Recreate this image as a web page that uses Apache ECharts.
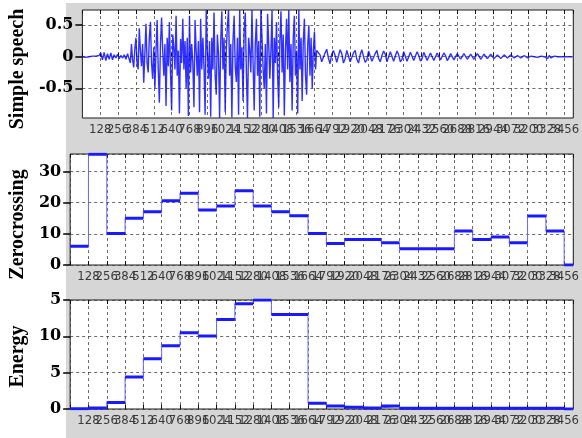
<!DOCTYPE html>
<html>
<head>
<meta charset="utf-8">
<script src="https://cdn.jsdelivr.net/npm/echarts@6/dist/echarts.min.js"></script>
<style>
html,body{margin:0;padding:0;background:#fff;}
#chart{width:582px;height:438px;}
</style>
</head>
<body>
<div id="chart"></div>
<script>
// ---------------- data ----------------
const frameLen = 128;      // samples per analysis frame
const xMax = 3520;

const xTickLabels = ['128','256','384','512','640','768','896','1024','1152','1280','1408','1536','1664','1792',
  '1920','2048','2176','2304','2432','2560','2688','2816','2944','3072','3200','3328','3456'];

const speechTickValues = [-0.5, 0, 0.5];
const speechTickLabels = ['-0.5', '0', '0.5'];
const zcTickLabels = ['0', '10', '20', '30'];
const energyTickLabels = ['0', '5', '10', '5'];

// waveform, quiet onset: samples 0..324, every 12 samples
const speechLeadStart = 0, speechLeadStep = 12;
const speechLead = [
  0, 0.01, -0.01, 0.01, 0, -0.01, 0.01, 0, 0.01, -0.01, 0.02,
  0.06, -0.05, 0.07, -0.06, 0.05, -0.04, 0.06, -0.05,
  0.03, -0.02, 0.04, -0.03, 0.02, -0.02, 0.03, -0.04, 0.05
];
// waveform, voiced part: samples 336..1680, every 8 samples
const speechLoudStart = 336, speechLoudStep = 8;
const speechLoud = [
  0.08, -0.1, 0.2, -0.05, -0.17, 0.12, 0.3, -0.1, -0.2,
  0.45, 0.1, -0.15, 0.2, -0.41, 0.05, 0.52, -0.1, -0.25,
  0.3, 0.55, -0.1, -0.35, 0.15, -0.5, 0.1, 0.58, -0.2, -0.73, 0.2,
  0.62, 0.1, -0.3, 0.2, -0.78, 0.3, -0.15, 0.55, -0.25, -0.85,
  0.35, 0.15, -0.2, 0.65, -0.3, 0.1, -0.9, 0.28, -0.1, 0.6,
  -0.2, 0.25, -0.5, 0.3, -0.94, 0.65, -0.25, 0.2, -0.1, -0.8,
  0.58, 0.1, -0.3, 0.25, -0.88, 0.6, -0.2, 0.3, -0.15, -0.92,
  0.74, 0.1, -0.35, 0.25, -0.95, 0.3, -0.2, 0.7, -0.3, -0.6,
  0.35, 0.05, -0.97, 0.25, 0.72, -0.2, 0.3, -0.88, 0.1, 0.5,
  0.74, -0.3, 0.2, -0.96, 0.25, 0.65, -0.15, -0.4, 0.3, -0.92,
  0.74, -0.2, 0.15, -0.7, 0.4, 0.7, -0.25, -0.97, 0.3, 0.1,
  -0.25, 0.74, -0.1, -0.85, 0.2, 0.6, -0.3, 0.25, -0.95, 0.74,
  0.3, -0.2, -0.5, 0.2, -0.9, 0.68, 0.2, -0.35, 0.1, 0.74,
  -0.97, 0.3, -0.1, 0.55, -0.3, -0.8, 0.25, 0.72, -0.25, 0.35,
  -0.93, 0.1, 0.6, -0.2, 0.74, -0.4, 0.2, -0.85, 0.3, 0.65,
  -0.3, 0.1, -0.9, 0.74, -0.2, 0.3, -0.7, 0.25, 0.6, -0.3,
  -0.6, 0.2, 0.5, -0.3, 0.3, -0.5, 0.1, 0.4, -0.2, 0.1
];
// waveform, unvoiced tail: samples 1692..3516, every 12 samples
const speechTailStart = 1692, speechTailStep = 12;
const speechTail = [
  0.11, 0.03, -0.08, -0.1, 0.06, 0.12, -0.02, -0.11, 0.04, 0.1,
  0.02, -0.09, -0.06, 0.11, 0.05, -0.1, -0.03, 0.1, 0.07, -0.08,
  -0.09, 0.06, 0.1, -0.04, -0.1, 0.03, 0.11, 0.0, -0.09, -0.05,
  0.09, 0.06, -0.07, -0.09, 0.05, 0.1, -0.03, -0.08, 0.02, 0.09,
  0.04, -0.08, -0.06, 0.08, 0.06, -0.07, -0.05, 0.09, 0.03, -0.08,
  -0.04, 0.08, 0.05, -0.07, -0.06, 0.07, 0.04, -0.06, -0.05, 0.08,
  0.02, -0.07, -0.03, 0.07, 0.05, -0.06, -0.04, 0.06, 0.03, -0.06,
  -0.05, 0.06, 0.04, -0.05, -0.03, 0.06, 0.02, -0.06, -0.02, 0.05,
  0.04, -0.05, -0.03, 0.05, 0.03, -0.04,
  -0.03, 0.05, 0.02, -0.04, -0.03, 0.04, 0.03, -0.04, -0.02, 0.05,
  0.01, -0.04, -0.03, 0.04, 0.02, -0.03, -0.02, 0.04, 0.01, -0.03,
  -0.02, 0.03, 0.02, -0.03, -0.01, 0.03, 0.02, -0.02, -0.02, 0.03,
  0.01, -0.02, -0.01, 0.02, 0.01, -0.02, 0.01, 0.02, -0.01, -0.02,
  0.01, 0.01, -0.01, 0.0, 0.01, -0.01, 0.0, 0.01, -0.01, 0.0,
  0.03, -0.03, 0.02, -0.02, 0.0, 0.01, -0.01, 0.0, 0.01, 0.0,
  -0.01, 0.0, 0.01, 0.0, -0.01, 0.0, 0.0
];

const zeroCross = [6.0, 35.5, 10.1, 15.0, 17.1, 20.6, 23.0, 17.6, 18.9, 23.8, 18.9, 17.1, 15.8, 10.1,
  6.9, 8.2, 8.2, 7.1, 5.2, 5.2, 5.2, 10.9, 8.2, 9.0, 7.1, 15.7, 10.9, 0.0];

const energy = [0.05, 0.15, 0.9, 4.4, 6.9, 8.7, 10.5, 10.05, 12.3, 14.5, 15.0, 13.0, 13.0, 0.8,
  0.4, 0.25, 0.15, 0.4, 0.1, 0.1, 0.1, 0.1, 0.1, 0.1, 0.1, 0.1, 0.1, 0.0];

// ---------------- helpers ----------------
function seg(vals, start, step) { return vals.map((v, i) => [start + i * step, v]); }
const speechData = seg(speechLead, speechLeadStart, speechLeadStep)
  .concat(seg(speechLoud, speechLoudStart, speechLoudStep))
  .concat(seg(speechTail, speechTailStart, speechTailStep));

function stepPoints(vals) {
  const pts = vals.map((v, i) => [i * frameLen, v]);
  pts.push([xMax, vals[vals.length - 1]]);
  return pts;
}
function flatPoints(vals) {
  const pts = [];
  vals.forEach((v, i) => {
    const a = i * frameLen, b = Math.min((i + 1) * frameLen, xMax);
    pts.push([a, v], [b, v], [b, '-']);
  });
  return pts;
}

const chart = echarts.init(document.getElementById('chart'), null, {renderer: 'canvas'});

const grids = [
  {left: 69, top: 10, width: 508, height: 108},
  {left: 69, top: 154, width: 508, height: 111},
  {left: 69, top: 300, width: 508, height: 109}
].map(g => Object.assign(g, {show: true, backgroundColor: '#ffffff', borderColor: '#1a1a1a', borderWidth: 1}));

const gridLine = {show: true, lineStyle: {color: '#3a3a3a', type: [3, 3], width: 1, opacity: 0.75}};

function bottomX(gi) {
  return {
    type: 'value', gridIndex: gi, min: 0, max: xMax, interval: frameLen,
    axisLine: {show: false},
    axisTick: {show: true, inside: true, length: 4, lineStyle: {color: '#111'}},
    splitLine: gridLine,
    axisLabel: {
      show: true, margin: 5, fontSize: 13, color: '#3a3a3a',
      fontFamily: "'DejaVu Sans Condensed','Liberation Sans Narrow','Liberation Sans',sans-serif",
      showMaxLabel: false,
      formatter: v => xTickLabels.indexOf(String(v)) >= 0 ? String(v) : ''
    }
  };
}
function topX(gi) {
  return {
    type: 'value', gridIndex: gi, position: 'top', min: 0, max: xMax, interval: frameLen,
    axisLine: {show: false},
    axisTick: {show: true, inside: true, length: 4, lineStyle: {color: '#111'}},
    splitLine: {show: false},
    axisLabel: {show: false}
  };
}

const yLabelStyle = {fontFamily: "'DejaVu Serif',serif", fontWeight: 'bold', fontSize: 16, color: '#000', margin: 9};
const yNameStyle = {fontFamily: "'Liberation Serif','Times New Roman',serif", fontWeight: 'bold', fontSize: 20, color: '#000'};

const option = {
  animation: false,
  backgroundColor: '#ffffff',
  graphic: [{
    type: 'rect', z: -100, silent: true,
    shape: {x: 66, y: 3, width: 516, height: 435},
    style: {fill: '#d6d6d6'}
  }],
  grid: grids,
  xAxis: [bottomX(0), bottomX(1), bottomX(2), topX(0), topX(1), topX(2)],
  yAxis: [
    {
      type: 'value', gridIndex: 0, min: -0.97, max: 0.74,
      name: 'Simple speech', nameLocation: 'middle', nameGap: 35,
      nameTextStyle: Object.assign({padding: [0, 10, 0, 0]}, yNameStyle),
      axisLine: {show: false},
      axisTick: {show: true, length: 7, lineStyle: {color: '#000', width: 1.5}, customValues: speechTickValues},
      axisLabel: Object.assign({customValues: speechTickValues,
        formatter: v => speechTickLabels[speechTickValues.indexOf(v)]}, yLabelStyle),
      splitLine: gridLine
    },
    {
      type: 'value', gridIndex: 1, min: 0, max: 35.6, interval: 10,
      name: 'Zerocrossing', nameLocation: 'middle', nameGap: 35,
      nameTextStyle: Object.assign({padding: [0, 30, 0, 0]}, yNameStyle),
      axisLine: {show: false},
      axisTick: {show: true, length: 7, lineStyle: {color: '#000', width: 1.5}},
      axisLabel: Object.assign({showMaxLabel: false,
        formatter: v => (v % 10 === 0 ? zcTickLabels[v / 10] || '' : '')}, yLabelStyle),
      splitLine: gridLine
    },
    {
      type: 'value', gridIndex: 2, min: 0, max: 15, interval: 5,
      name: 'Energy', nameLocation: 'middle', nameGap: 35,
      nameTextStyle: Object.assign({padding: [0, 4, 0, 0]}, yNameStyle),
      axisLine: {show: false},
      axisTick: {show: true, length: 7, lineStyle: {color: '#000', width: 1.5}},
      axisLabel: Object.assign({formatter: v => energyTickLabels[v / 5]}, yLabelStyle),
      splitLine: gridLine
    }
  ],
  series: [
    {
      type: 'line', xAxisIndex: 0, yAxisIndex: 0, symbol: 'none', silent: true,
      data: speechData,
      lineStyle: {color: '#0d0dff', width: 1.4, opacity: 0.85}
    },
    {
      type: 'line', xAxisIndex: 1, yAxisIndex: 1, symbol: 'none', silent: true, step: 'end',
      data: stepPoints(zeroCross),
      lineStyle: {color: '#6a6aff', width: 1}
    },
    {
      type: 'line', xAxisIndex: 1, yAxisIndex: 1, symbol: 'none', silent: true,
      data: flatPoints(zeroCross),
      lineStyle: {color: '#1a1aff', width: 3}
    },
    {
      type: 'line', xAxisIndex: 2, yAxisIndex: 2, symbol: 'none', silent: true, step: 'end',
      data: stepPoints(energy),
      lineStyle: {color: '#6a6aff', width: 1}
    },
    {
      type: 'line', xAxisIndex: 2, yAxisIndex: 2, symbol: 'none', silent: true,
      data: flatPoints(energy),
      lineStyle: {color: '#1a1aff', width: 3}
    }
  ]
};
chart.setOption(option);
</script>
</body>
</html>
